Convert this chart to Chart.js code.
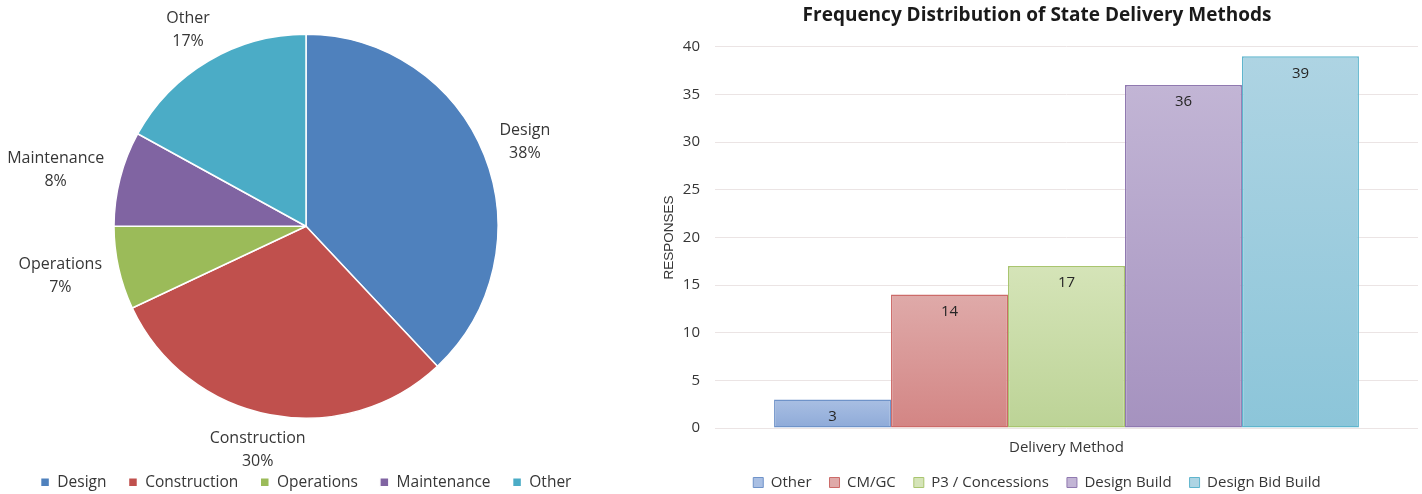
<!DOCTYPE html>
<html>
<head>
<meta charset="utf-8">
<script src="https://cdn.jsdelivr.net/npm/chart.js@4"></script>
<style>
  html, body { margin: 0; padding: 0; background: #fff; overflow: hidden; width: 1422px; height: 494px; }
  #pieBox { position: absolute; left: 0; top: 0; }
  #barBox { position: absolute; left: 640px; top: 0; }
</style>
</head>
<body>
<div id="pieBox"><canvas id="pieChart" width="620" height="500"></canvas></div>
<div id="barBox"><canvas id="barChart" width="792" height="500"></canvas></div>
<script>
// ---- pie : share by area ----
const pieLabels = ['Design', 'Construction', 'Operations', 'Maintenance', 'Other'];
const pieValues = [38, 30, 7, 8, 17];
const pieColors = ['#4f81bd', '#c0504d', '#9bbb59', '#8064a2', '#4bacc6'];

// ---- bars : delivery methods ----
const methodNames = ['Other', 'CM/GC', 'P3 / Concessions', 'Design Build', 'Design Bid Build'];
const methodCounts = [3, 14, 17, 36, 39];
const barTopColors = ['#a9bfe3', '#dfaaa9', '#d5e4b8', '#c2b5d5', '#aed4e3'];
const barBottomColors = ['#8eaad8', '#d38584', '#bcd396', '#a592bf', '#8cc5d9'];
const barEdgeColors = ['#6f93c9', '#cc6b69', '#a9c56f', '#9079b0', '#5fb5cd'];
const yMin = 0, yMax = 40, yStep = 5;

const textColor = '#363636';
const uiFont = '"Open Sans", "DejaVu Sans", sans-serif';

// labels outside each slice : name on top, percent below
const pieLabelPlugin = {
    id: 'pieLabels',
    afterDatasetsDraw(chart) {
        const ctx = chart.ctx;
        const arcs = chart.getDatasetMeta(0).data;
        const total = pieValues.reduce((a, b) => a + b, 0);
        ctx.save();
        ctx.font = '16px ' + uiFont;
        ctx.fillStyle = textColor;
        ctx.textAlign = 'center';
        ctx.textBaseline = 'middle';
        arcs.forEach((arc, i) => {
            const mid = (arc.startAngle + arc.endAngle) / 2;
            const cos = Math.cos(mid), sin = Math.sin(mid);
            const pct = Math.round(pieValues[i] / total * 100) + '%';
            const halfW = Math.max(ctx.measureText(pieLabels[i]).width, ctx.measureText(pct).width) / 2;
            const halfH = 18;
            const r = arc.outerRadius + 18;
            const x = arc.x + r * cos + halfW * cos;
            const y = arc.y + r * sin + halfH * sin;
            ctx.fillText(pieLabels[i], x, y - 11.5);
            ctx.fillText(pct, x, y + 11.5);
        });
        ctx.restore();
    }
};

new Chart(document.getElementById('pieChart'), {
    type: 'pie',
    data: {
        labels: pieLabels,
        datasets: [{
            data: pieValues,
            backgroundColor: pieColors,
            borderColor: '#ffffff',
            borderWidth: 1.5
        }]
    },
    options: {
        responsive: false,
        animation: false,
        radius: 192,
        layout: { padding: { left: 0, right: 8, top: 0, bottom: 0 } },
        plugins: {
            legend: {
                position: 'bottom',
                labels: {
                    boxWidth: 9,
                    boxHeight: 9,
                    padding: 22,
                    color: textColor,
                    font: { family: uiFont, size: 15.5 }
                }
            },
            tooltip: { enabled: false }
        }
    },
    plugins: [pieLabelPlugin]
});

// vertical gradient per bar, light at the top
function barFill(i) {
    return (context) => {
        const chart = context.chart;
        const yScale = chart.scales.y;
        if (!yScale || !chart.chartArea) return barTopColors[i];
        const yTop = yScale.getPixelForValue(methodCounts[i]);
        const yBase = yScale.getPixelForValue(0);
        const g = chart.ctx.createLinearGradient(0, yTop, 0, yBase);
        g.addColorStop(0, barTopColors[i]);
        g.addColorStop(1, barBottomColors[i]);
        return g;
    };
}

// value printed just under the top of each bar
const barValuePlugin = {
    id: 'barValues',
    afterDatasetsDraw(chart) {
        const ctx = chart.ctx;
        ctx.save();
        ctx.font = '15px ' + uiFont;
        ctx.fillStyle = '#262626';
        ctx.textAlign = 'center';
        ctx.textBaseline = 'middle';
        chart.data.datasets.forEach((ds, i) => {
            const bar = chart.getDatasetMeta(i).data[0];
            ctx.fillText(String(methodCounts[i]), bar.x, bar.y + 17);
        });
        ctx.restore();
    }
};

new Chart(document.getElementById('barChart'), {
    type: 'bar',
    data: {
        labels: ['Delivery Method'],
        datasets: methodNames.map((name, i) => ({
            label: name,
            data: [methodCounts[i]],
            backgroundColor: barFill(i),
            borderColor: barEdgeColors[i],
            borderWidth: 1.5,
            borderSkipped: false,
            barPercentage: 1,
            categoryPercentage: 0.832
        }))
    },
    options: {
        responsive: false,
        animation: false,
        layout: { padding: { left: 16, right: 14, top: 0, bottom: 0 } },
        scales: {
            x: {
                grid: { display: false, drawTicks: false },
                border: { display: false },
                ticks: { display: false },
                title: {
                    display: true,
                    text: 'Delivery Method',
                    color: textColor,
                    font: { family: uiFont, size: 15 },
                    padding: { top: 11, bottom: 0 }
                }
            },
            y: {
                min: yMin,
                max: yMax,
                // fixed width for the axis column (title + tick labels)
                afterFit: (scale) => { scale.width = 59; },
                grid: { color: '#ebe4e4', lineWidth: 1, drawTicks: false },
                border: { display: false },
                ticks: {
                    stepSize: yStep,
                    padding: 15,
                    color: textColor,
                    font: { family: uiFont, size: 15 }
                },
                title: {
                    display: true,
                    text: 'RESPONSES',
                    color: textColor,
                    font: { family: '"Liberation Sans", Arial, sans-serif', size: 13.5 },
                    padding: { top: 5, bottom: 8 }
                }
            }
        },
        plugins: {
            title: {
                display: true,
                text: 'Frequency Distribution of State Delivery Methods',
                color: '#1a1a1a',
                font: { family: uiFont, size: 19, weight: 'bold' },
                padding: { top: 4, bottom: 20 }
            },
            legend: {
                position: 'bottom',
                labels: {
                    boxWidth: 10,
                    boxHeight: 10,
                    padding: 18,
                    color: textColor,
                    font: { family: uiFont, size: 15 },
                    generateLabels: () => methodNames.map((name, i) => ({
                        text: name,
                        fillStyle: barTopColors[i],
                        strokeStyle: barEdgeColors[i],
                        lineWidth: 1,
                        fontColor: textColor,
                        hidden: false,
                        datasetIndex: i
                    }))
                }
            },
            tooltip: { enabled: false }
        }
    },
    plugins: [barValuePlugin]
});
</script>
</body>
</html>
